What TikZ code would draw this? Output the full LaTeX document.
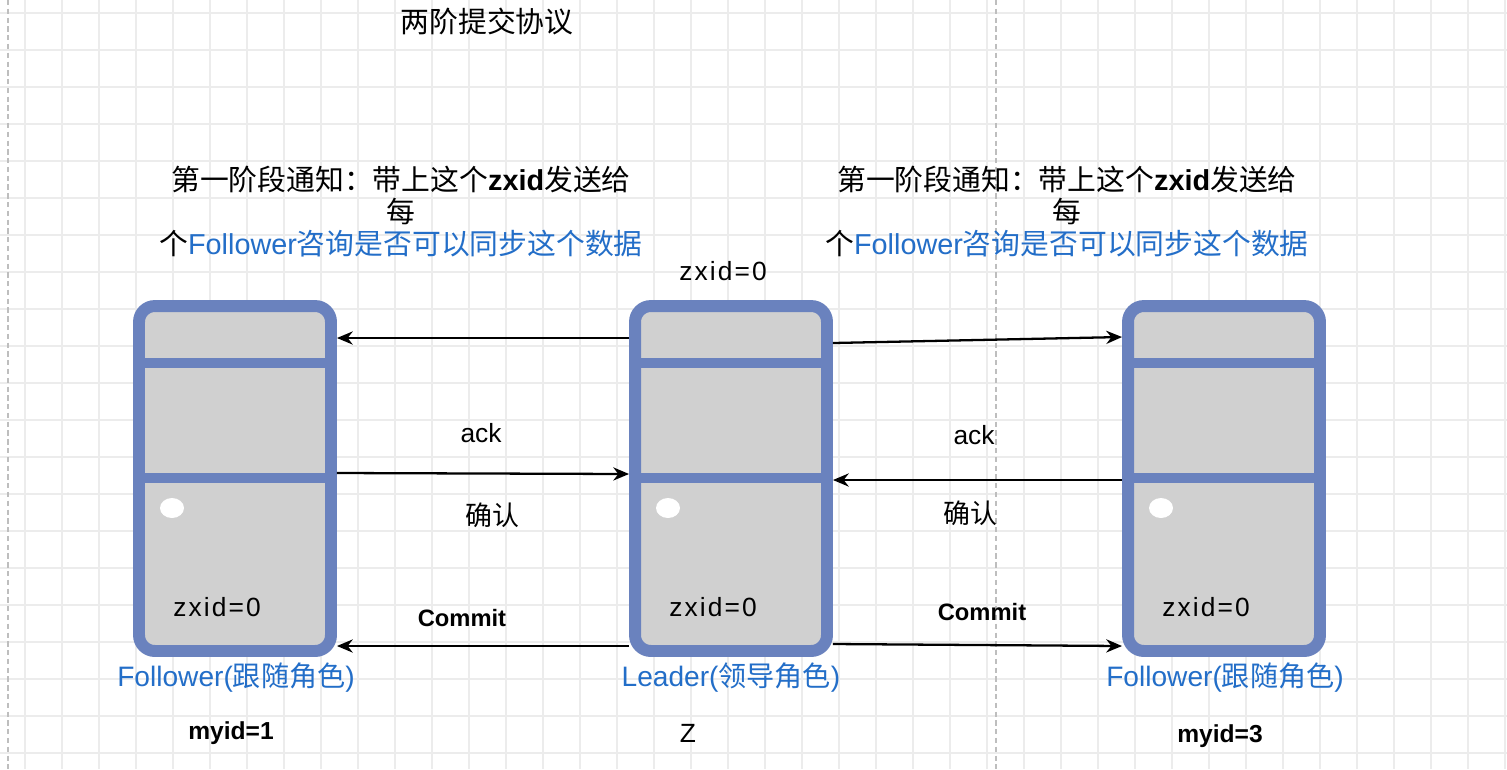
\documentclass[tikz,border=0pt]{standalone}
\usepackage{fontspec}
\setmainfont{Liberation Sans}
\newfontfamily\cjk{Noto Sans CJK SC}
\usetikzlibrary{arrows.meta}

\definecolor{boxblue}{RGB}{106,130,190}
\definecolor{boxgray}{RGB}{208,208,208}
\definecolor{gridgray}{RGB}{236,236,236}
\definecolor{guidegray}{RGB}{190,190,190}
\definecolor{textblue}{RGB}{35,110,200}

\tikzset{
  gridline/.style={draw=gridgray, line width=0.7pt},
  guide/.style={draw=guidegray, line width=0.6pt, dash pattern=on 3pt off 2pt},
  serverbox/.style={draw=boxblue, fill=boxgray, line width=6.8pt, rounded corners=9pt,
    minimum width=3.84cm, minimum height=6.9cm, inner sep=0pt},
  divider/.style={draw=boxblue, line width=5.7pt},
  msg/.style={-{Stealth[length=9pt,width=7.5pt]}, line width=1.3pt},
  titletext/.style={font=\cjk\fontsize{16.4}{20}\selectfont, inner sep=0pt},
  notetext/.style={font=\cjk\fontsize{16.4}{18.2}\selectfont, align=center, inner sep=0pt},
  lbl/.style={font=\fontsize{15}{18}\selectfont, inner sep=0pt},
  boldlbl/.style={font=\bfseries\fontsize{13.5}{16}\selectfont, inner sep=0pt},
  cjklbl/.style={font=\cjk\fontsize{15.3}{18}\selectfont, inner sep=0pt},
  role/.style={font=\fontsize{16}{18}\selectfont, text=textblue, inner sep=0pt},
}

\begin{document}
\begin{tikzpicture}[x=0.02cm, y=-0.02cm]

% --- background and grid ---
\fill[white] (0,0) rectangle (1507,769);
\useasboundingbox (0,0) rectangle (1507,769);
\foreach \gx in {25,62,...,1507}
  \draw[gridline] (\gx,0) -- (\gx,769);
\foreach \gy in {13,50,...,769}
  \draw[gridline] (0,\gy) -- (1507,\gy);
\draw[guide] (8,0) -- (8,769);
\draw[guide] (996,0) -- (996,769);

% --- title and notes ---
\node[titletext] (title) at (487,22) {两阶提交协议};

\node[notetext] (lnote) at (401,212)
  {第一阶段通知：带上这个{\rmfamily\bfseries zxid}发送给\\每\\
   个{\color{textblue}{\rmfamily Follower}咨询是否可以同步这个数据}};
\node[notetext] (rnote) at (1067,212)
  {第一阶段通知：带上这个{\rmfamily\bfseries zxid}发送给\\每\\
   个{\color{textblue}{\rmfamily Follower}咨询是否可以同步这个数据}};

% --- the three servers ---
\foreach \n/\x in {fl/235, ld/731, fr/1224} {
  \node[serverbox] (\n) at (\x,478.5) {};
  \draw[divider] (\x-96,363) -- (\x+96,363);
  \draw[divider] (\x-96,478) -- (\x+96,478);
  \fill[white] (\x-63,508) ellipse [x radius=0.24cm, y radius=0.2cm];
  \node[lbl, font=\addfontfeature{LetterSpace=8}\fontsize{15}{18}\selectfont]
    (zx\n) at (\x-18,607) {zxid=0};
}

\node[lbl, font=\addfontfeature{LetterSpace=8}\fontsize{15}{18}\selectfont]
  (zxtop) at (723,271) {zxid=0};

% --- messages ---
\draw[msg] (ld.west |- 0,338) -- (fl.east |- 0,338);
\draw[msg] (ld.east |- 0,343) -- (fr.west |- 0,337);
\draw[msg] (fl.east |- 0,473) -- (ld.west |- 0,474);
\draw[msg] (fr.west |- 0,480) -- (ld.east |- 0,480);
\draw[msg] (ld.west |- 0,646) -- (fl.east |- 0,646);
\draw[msg] (ld.east |- 0,644) -- (fr.west |- 0,646);

\node[lbl] (ackl) at (481,433) {ack};
\node[cjklbl] (okl) at (492,515) {确认};
\node[boldlbl] (cmtl) at (462,618) {Commit};

\node[lbl] (ackr) at (974,435) {ack};
\node[cjklbl] (okr) at (970,513) {确认};
\node[boldlbl] (cmtr) at (982,612) {Commit};

% --- roles ---
\node[role] (rolefl) at (236,678) {Follower({\cjk 跟随角色})};
\node[role] (roleld) at (731,678) {Leader({\cjk 领导角色})};
\node[role] (rolefr) at (1225,678) {Follower({\cjk 跟随角色})};

\node[boldlbl, font=\bfseries\fontsize{14}{16}\selectfont] (idl) at (231,733) {myid=1};
\node[lbl] (idz) at (688,733) {Z};
\node[boldlbl, font=\bfseries\fontsize{14}{16}\selectfont] (idr) at (1220,736) {myid=3};

\end{tikzpicture}
\end{document}
